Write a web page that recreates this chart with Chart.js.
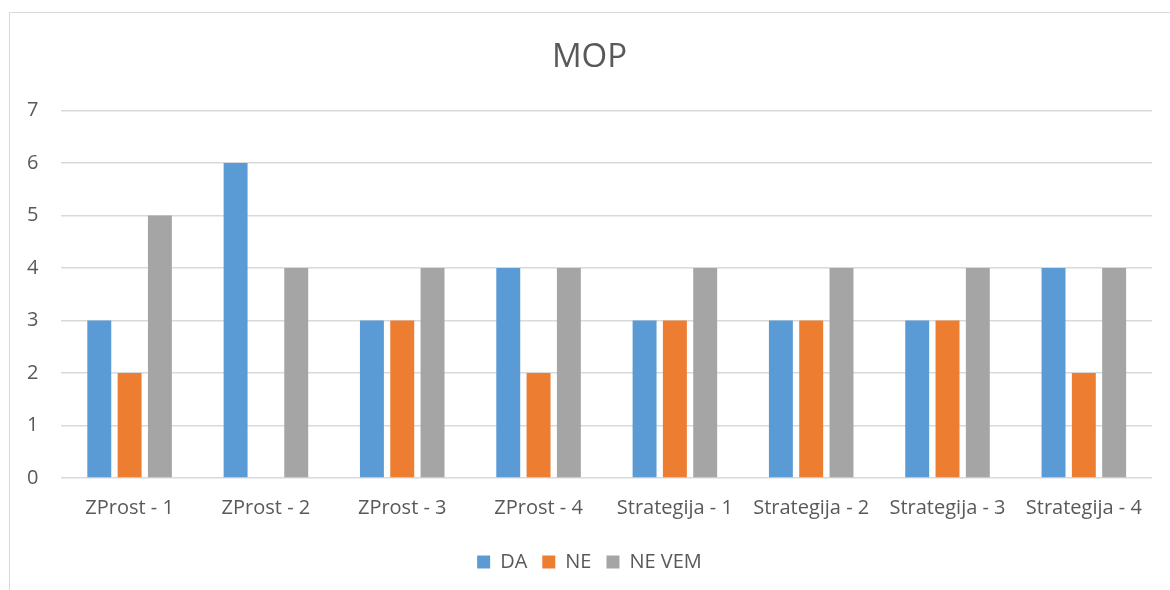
<!DOCTYPE html>
<html>
<head>
<meta charset="utf-8">
<script src="https://cdn.jsdelivr.net/npm/chart.js@4"></script>
<style>
  html, body { margin: 0; padding: 0; background: #fff; overflow: hidden; }
  #frame { position: absolute; left: 9px; top: 12px; width: 1200px; height: 620px; border: 1px solid #d9d9d9; }
  #chart { position: absolute; left: 10px; top: 13px; }
</style>
</head>
<body>
<div id="frame"></div>
<canvas id="chart" width="1150" height="577"></canvas>
<script>
// Chart data
const categories = ['ZProst - 1', 'ZProst - 2', 'ZProst - 3', 'ZProst - 4',
    'Strategija - 1', 'Strategija - 2', 'Strategija - 3', 'Strategija - 4'];
const daValues = [3, 6, 3, 4, 3, 3, 3, 4];
const neValues = [2, 0, 3, 2, 3, 3, 3, 2];
const neVemValues = [5, 4, 4, 4, 4, 4, 4, 4];
const yTicks = [0, 1, 2, 3, 4, 5, 6, 7];

const textColor = '#595959';
const fontFamily = '"Open Sans", "DejaVu Sans", sans-serif';

new Chart(document.getElementById('chart'), {
    type: 'bar',
    data: {
        labels: categories,
        datasets: [
            { label: 'DA', data: daValues, backgroundColor: '#5B9BD5' },
            { label: 'NE', data: neValues, backgroundColor: '#ED7D31' },
            { label: 'NE VEM', data: neVemValues, backgroundColor: '#A5A5A5' }
        ]
    },
    options: {
        responsive: false,
        animation: false,
        categoryPercentage: 0.667,
        barPercentage: 0.79,
        layout: {
            padding: { left: 17, right: 8, top: 0, bottom: 8 }
        },
        scales: {
            x: {
                grid: { display: false, drawTicks: false },
                border: { display: false },
                ticks: {
                    color: textColor,
                    font: { family: fontFamily, size: 20 },
                    padding: 18,
                    maxRotation: 0
                },
                afterFit: function(axis) {
                    // no tick marks, so trim the extra space reserved below the labels
                    axis.paddingLeft = 0;
                    axis.paddingRight = 0;
                    axis.height -= 1;
                }
            },
            y: {
                min: yTicks[0],
                max: yTicks[yTicks.length - 1],
                afterBuildTicks: function(axis) {
                    axis.ticks = yTicks.map(v => ({ value: v }));
                },
                grid: { color: '#d9d9d9', lineWidth: 1.5, drawTicks: false },
                border: { display: false },
                ticks: {
                    color: textColor,
                    font: { family: fontFamily, size: 20 },
                    padding: 23
                },
                afterFit: function(axis) {
                    axis.width -= axis.options.ticks.padding;
                }
            }
        },
        plugins: {
            title: {
                display: true,
                text: 'MOP',
                color: textColor,
                font: { family: fontFamily, size: 33, weight: 'normal' },
                padding: { top: 25, bottom: 33 }
            },
            legend: {
                position: 'bottom',
                labels: {
                    color: textColor,
                    font: { family: fontFamily, size: 20 },
                    boxWidth: 13,
                    boxHeight: 13,
                    padding: 15
                }
            },
            tooltip: { enabled: false }
        }
    }
});
</script>
</body>
</html>
